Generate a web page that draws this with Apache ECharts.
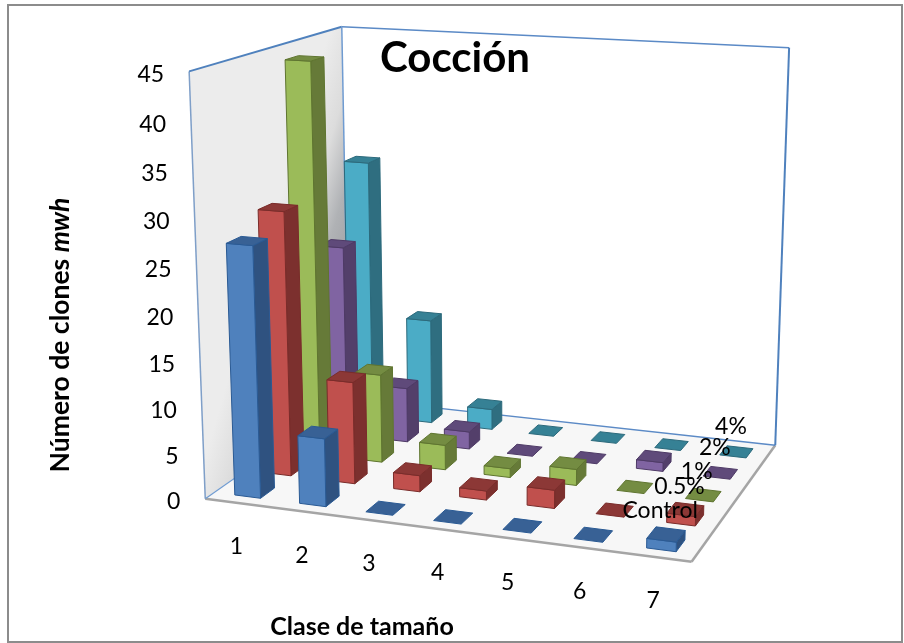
<!DOCTYPE html>
<html>
<head>
<meta charset="utf-8">
<style>html,body{margin:0;padding:0;background:#fff}#chart{width:904px;height:643px}</style>
<script src="https://cdn.jsdelivr.net/npm/echarts@6/dist/echarts.min.js"></script>
</head>
<body>
<div id="chart"></div>
<script>
// Cocción: mwh clone counts per size class and treatment
const categories = ['1', '2', '3', '4', '5', '6', '7'];
const treatments = ['Control', '0.5%', '1%', '2%', '4%'];
const valueTicks = [0, 5, 10, 15, 20, 25, 30, 35, 40, 45];
const control = [27.2, 7.4, 0, 0, 0, 0, 1];
const dose05 = [29.2, 11.3, 1.8, 1, 2, 0, 1];
const dose1 = [44, 10, 2.8, 1, 1.8, 0, 0];
const dose2 = [22, 6.3, 2, 0, 0, 1, 0];
const dose4 = [30.3, 12.3, 2.4, 0, 0, 0, 0];
const rows = [control, dose05, dose1, dose2, dose4];

const faceColours = [
  { front: '#4f81bd', side: '#2f5280', top: '#386195', line: '#2a5a94' },
  { front: '#c0504d', side: '#7c302e', top: '#8c3836', line: '#7a2c2a' },
  { front: '#9bbb59', side: '#667a38', top: '#748c42', line: '#5f7530' },
  { front: '#8064a2', side: '#533f6a', top: '#5f4a7a', line: '#4e3a66' },
  { front: '#4bacc6', side: '#2f6e80', top: '#368195', line: '#2c6a7c' }
];

// Box corners on screen, used to fit the perspective transform
const boxCorners = [
  [[0, 0, 0], [205, 497]], [[1, 0, 0], [692, 563]], [[1, 0, 1], [775, 444]],
  [[0, 0, 1], [349, 400]], [[0, 1, 0], [189, 72]], [[0, 1, 1], [342, 26]],
  [[1, 1, 1], [789, 48]]
];
const barWidth = 0.4;
const barDepth = 0.45;
const barShift = 0.003;
const GRID_W = 900, GRID_H = 600;

function solve(M, b) {
  const n = b.length, A = M.map((r, i) => r.concat(b[i]));
  for (let c = 0; c < n; c++) {
    let p = c;
    for (let r = c + 1; r < n; r++) if (Math.abs(A[r][c]) > Math.abs(A[p][c])) p = r;
    [A[c], A[p]] = [A[p], A[c]];
    for (let r = 0; r < n; r++) {
      if (r === c) continue;
      const f = A[r][c] / A[c][c];
      for (let k = c; k <= n; k++) A[r][k] -= f * A[c][k];
    }
  }
  return A.map((r, i) => r[n] / r[i]);
}

function fitProjection(pairs) {
  const eq = [], rhs = [];
  pairs.forEach(([[x, y, z], [sx, sy]]) => {
    const u = sx / 1000, v = sy / 1000;
    eq.push([x, y, z, 1, 0, 0, 0, 0, -u * x, -u * y, -u * z]); rhs.push(u);
    eq.push([0, 0, 0, 0, x, y, z, 1, -v * x, -v * y, -v * z]); rhs.push(v);
  });
  const n = 11, N = [], t = [];
  for (let i = 0; i < n; i++) {
    N.push([]);
    let s = 0;
    for (let j = 0; j < n; j++) {
      let acc = 0;
      eq.forEach(r => { acc += r[i] * r[j]; });
      N[i].push(acc);
    }
    eq.forEach((r, k) => { s += r[i] * rhs[k]; });
    t.push(s);
  }
  return solve(N, t);
}
const H = fitProjection(boxCorners);
function project(x, y, z) {
  const w = H[8] * x + H[9] * y + H[10] * z + 1;
  return [1000 * (H[0] * x + H[1] * y + H[2] * z + H[3]) / w,
          1000 * (H[4] * x + H[5] * y + H[6] * z + H[7]) / w];
}

// Axis scales live on a hidden grid; their pixels become box fractions
const toBox = (api, cat, val) => {
  const c = api.coord([cat, val]);
  return [c[0] / GRID_W, 1 - c[1] / GRID_H];
};
const LABEL_FONT = 'Lato';
const quad = (pts, fill, stroke) => ({
  type: 'polygon', shape: { points: pts },
  style: { fill, stroke: stroke || fill, lineWidth: 1, lineJoin: 'round' }, silent: true
});

function barSeries(rowIdx) {
  const colours = faceColours[rowIdx];
  return {
    type: 'custom', coordinateSystem: 'cartesian2d', silent: true, clip: false,
    name: treatments[rowIdx],
    data: rows[rowIdx].map((v, i) => [i, v]),
    encode: { x: 0, y: 1 },
    renderItem(params, api) {
      const cat = api.value(0), val = api.value(1);
      const [u, v] = toBox(api, cat, val);
      const half = (api.size([1, 0])[0] / GRID_W) * barWidth / 2;
      const z0 = (rowIdx + 0.5 - barDepth / 2) / treatments.length;
      const z1 = (rowIdx + 0.5 + barDepth / 2) / treatments.length;
      const x0 = u - half + barShift, x1 = u + half + barShift;
      const children = [];
      if (val > 0) {
        children.push(quad([project(x1, 0, z0), project(x1, 0, z1), project(x1, v, z1), project(x1, v, z0)], colours.side, colours.line));
        children.push(quad([project(x0, 0, z0), project(x1, 0, z0), project(x1, v, z0), project(x0, v, z0)], colours.front, colours.line));
      }
      children.push(quad([project(x0, v, z0), project(x1, v, z0), project(x1, v, z1), project(x0, v, z1)], colours.top, colours.line));
      return { type: 'group', children };
    }
  };
}

const frameSeries = {
  type: 'custom', coordinateSystem: 'none', silent: true, clip: false, data: [0],
  renderItem() {
    const A = project(0, 0, 0), B = project(1, 0, 0), C = project(1, 0, 1), D = project(0, 0, 1);
    const E = project(0, 1, 0), F = project(0, 1, 1), G = project(1, 1, 1);
    const line = (p, q, stroke, w) => ({
      type: 'line', shape: { x1: p[0], y1: p[1], x2: q[0], y2: q[1] },
      style: { stroke, lineWidth: w }, silent: true
    });
    return {
      type: 'group',
      children: [
        { type: 'polygon', shape: { points: [A, D, F, E] }, silent: true, style: {
          fill: {
            type: 'linear', x: 289, y: 84, x2: 433, y2: 126, global: true,
            colorStops: [
              { offset: 0, color: '#ececec' }, { offset: 0.16, color: '#ececec' },
              { offset: 0.37, color: '#dcdcdc' }, { offset: 0.554, color: '#b0b2b5' },
              { offset: 1, color: '#85878c' }
            ]
          }
        } },
        quad([A, B, C, D], '#f7f7f7', '#f7f7f7'),
        line(A, B, '#a5a5a5', 2.5), line(B, C, '#a5a5a5', 2.5),
        line(A, D, '#6f9bd1', 1.2), line(D, C, '#5b8ac6', 1.5),
        line(E, A, '#7f9fc8', 1.5), line(E, F, '#4f81bd', 2),
        line(F, G, '#5b8ac6', 1.6), line(F, D, '#6f9bd1', 1.5), line(G, C, '#4f81bd', 2)
      ]
    };
  }
};

const valueLabelSeries = {
  type: 'custom', coordinateSystem: 'cartesian2d', silent: true, clip: false,
  data: valueTicks.map(t => [0, t]),
  encode: { x: 0, y: 1 },
  renderItem(params, api) {
    const tick = api.value(1);
    const band = api.size([1, 0])[0];
    const c = api.coord([0, tick]);
    const p = project((c[0] - band / 2) / GRID_W, 1 - c[1] / GRID_H, 0);
    return {
      type: 'text', silent: true,
      style: { text: String(tick), x: p[0] - 25, y: p[1] + 3, align: 'right', verticalAlign: 'middle',
        fontFamily: LABEL_FONT, fontSize: 23, fill: '#000' }
    };
  }
};

const categoryLabelSeries = {
  type: 'custom', coordinateSystem: 'cartesian2d', silent: true, clip: false,
  data: categories.map((c, i) => [i, 0]),
  encode: { x: 0, y: 1 },
  renderItem(params, api) {
    const i = api.value(0);
    const [u] = toBox(api, i, 0);
    const p = project(u, 0, 0);
    return {
      type: 'text', silent: true,
      style: { text: categories[i], x: p[0] - 1, y: p[1] + 44, align: 'center', verticalAlign: 'middle',
        fontFamily: LABEL_FONT, fontSize: 23, fill: '#000' }
    };
  }
};

// Offsets of the treatment names from the right floor edge
const treatmentLabelOffset = [[-41, -38], [-40, -36], [-40, -27], [-38, -29], [-37, -29]];
const treatmentLabelSeries = {
  type: 'custom', coordinateSystem: 'none', silent: true, clip: false,
  data: treatments.map((t, i) => i),
  renderItem(params, api) {
    const i = api.value(0);
    const p = project(1, 0, (i + 0.5) / treatments.length);
    const off = treatmentLabelOffset[i];
    return {
      type: 'text', silent: true,
      style: { text: treatments[i], x: p[0] + off[0], y: p[1] + off[1], align: 'center', verticalAlign: 'middle',
        fontFamily: LABEL_FONT, fontSize: 23, fill: '#000' }
    };
  }
};

const chart = echarts.init(document.getElementById('chart'), null, { renderer: 'canvas' });
chart.setOption({
  animation: false,
  backgroundColor: '#fff',
  grid: { left: 0, top: 0, width: GRID_W, height: GRID_H, show: false },
  xAxis: { type: 'category', data: categories, show: false },
  yAxis: { type: 'value', min: 0, max: 45, interval: 5, show: false },
  graphic: [
    { type: 'rect', silent: true, shape: { x: 8, y: 5, width: 894, height: 637 },
      style: { fill: 'none', stroke: '#8c8c8c', lineWidth: 2 }, z: 0 },
    { type: 'text', silent: true, x: 455, y: 58, z: 50,
      style: { text: 'Cocción', align: 'center', verticalAlign: 'middle',
        fontFamily: LABEL_FONT, fontWeight: 'bold', fontSize: 42, fill: '#000' } },
    { type: 'text', silent: true, x: 362, y: 627, z: 50,
      style: { text: 'Clase de tamaño', align: 'center', verticalAlign: 'middle',
        fontFamily: LABEL_FONT, fontWeight: 'bold', fontSize: 25, fill: '#000' } },
    { type: 'text', silent: true, x: 60, y: 335, rotation: Math.PI / 2, z: 50,
      style: { text: '{b|Número de clones }{i|mwh}', align: 'center', verticalAlign: 'middle',
        rich: {
          b: { fontFamily: LABEL_FONT, fontWeight: 'bold', fontSize: 26.5, fill: '#000' },
          i: { fontFamily: LABEL_FONT, fontWeight: 'bold', fontStyle: 'italic', fontSize: 26.5, fill: '#000' }
        } } }
  ],
  series: [frameSeries]
    .concat([4, 3, 2, 1, 0].map(barSeries))
    .concat([valueLabelSeries, categoryLabelSeries, treatmentLabelSeries])
});
</script>
</body>
</html>
